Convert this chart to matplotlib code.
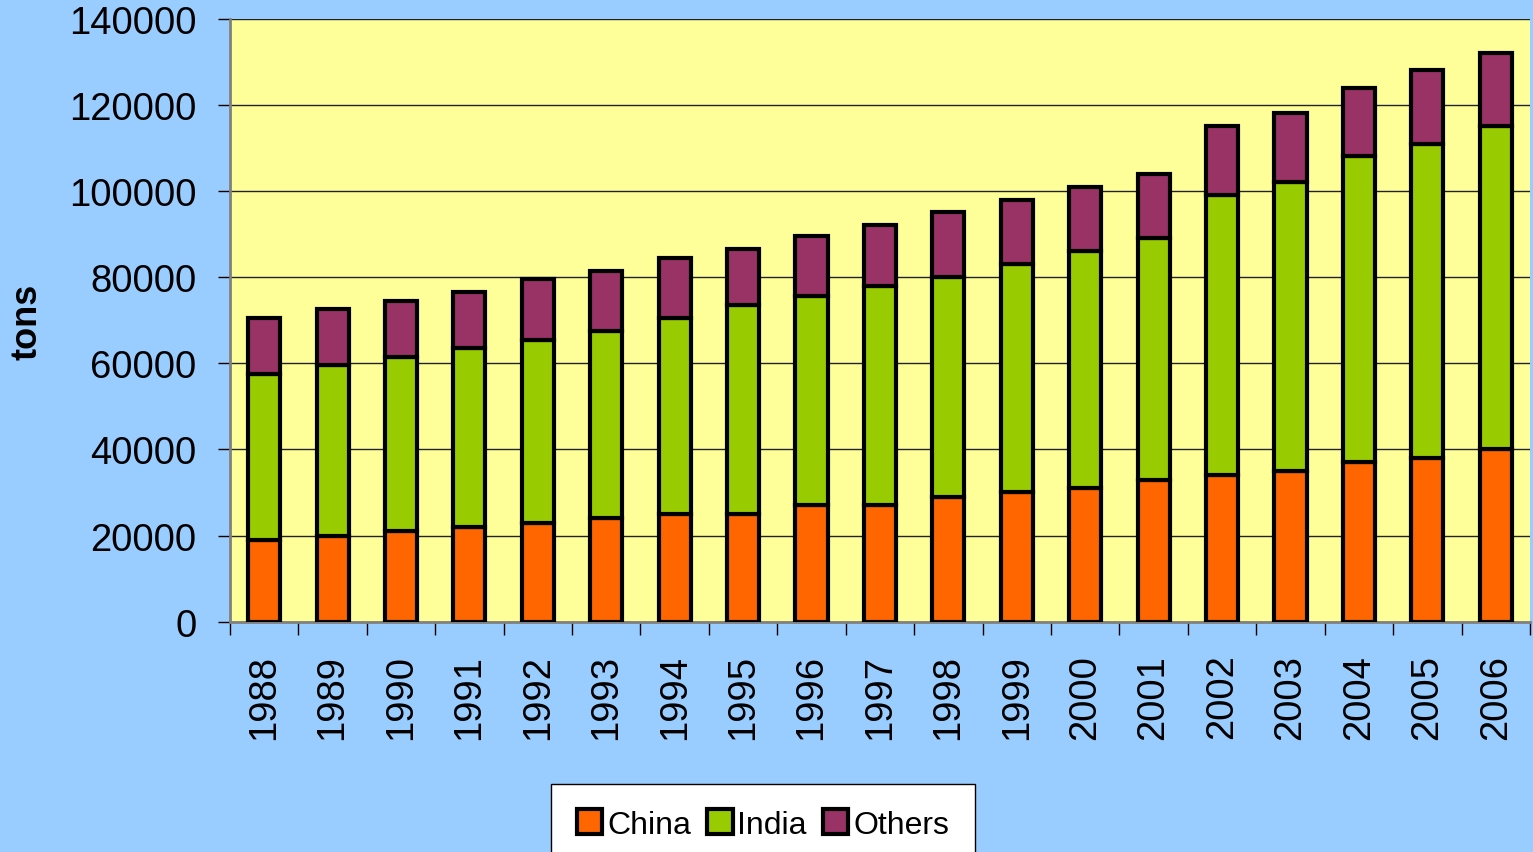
import numpy as np
import matplotlib
matplotlib.use("Agg")
import matplotlib.pyplot as plt

# dados
anos = ["1988", "1989", "1990", "1991", "1992", "1993", "1994", "1995", "1996", "1997",
        "1998", "1999", "2000", "2001", "2002", "2003", "2004", "2005", "2006"]
china = [19000, 20000, 21000, 22000, 23000, 24000, 25000, 25000, 27000, 27000,
         29000, 30000, 31000, 33000, 34000, 35000, 37000, 38000, 40000]
india = [38500, 39500, 40500, 41500, 42500, 43500, 45500, 48500, 48500, 51000,
         51000, 53000, 55000, 56000, 65000, 67000, 71000, 73000, 75000]
outros = [13000, 13000, 13000, 13000, 14000, 14000, 14000, 13000, 14000, 14000,
          15000, 15000, 15000, 15000, 16000, 16000, 16000, 17000, 17000]
series = ["China", "India", "Others"]
cores = ["#FF6600", "#99CC00", "#993366"]

plt.rcParams['font.family'] = ['Liberation Sans', 'DejaVu Sans']

fig = plt.figure(figsize=(15.33, 8.53), dpi=100)
fig.patch.set_facecolor("#99CCFF")
ax = fig.add_axes([0.150, 0.270, 0.848, 0.707])
ax.set_facecolor("#FFFF99")

x = np.arange(len(anos))
base = np.zeros(len(anos))
for nome, vals, cor in zip(series, [china, india, outros], cores):
    ax.bar(x, vals, bottom=base, width=0.47, color=cor, edgecolor="black",
           linewidth=3, label=nome, zorder=3)
    base = base + np.array(vals)

ax.set_xlim(-0.5, len(anos) - 0.5)
ax.set_ylim(0, 140000)
ax.set_yticks(range(0, 140001, 20000))
ax.yaxis.grid(True, color="#222222", linewidth=1, zorder=0)
ax.tick_params(axis="y", labelsize=27.5, length=9, width=1, pad=15, direction="out")

ax.set_xticks(x)
ax.set_xticklabels(anos, rotation=90)
ax.set_xticks(np.arange(-0.5, len(anos), 1), minor=True)
ax.tick_params(axis="x", which="major", length=0, labelsize=27.5, pad=23)
ax.tick_params(axis="x", which="minor", length=9, width=1, direction="out")

for lado in ["top", "right"]:
    ax.spines[lado].set_visible(False)
ax.spines["left"].set_color("#808080")
ax.spines["left"].set_linewidth(2)
ax.spines["bottom"].set_color("#808080")
ax.spines["bottom"].set_linewidth(2)

fig.text(27 / 1533, 1 - 322 / 853, "tons", rotation=90, fontsize=26,
         fontweight="bold", ha="center", va="center")

leg = fig.legend(loc="upper center", bbox_to_anchor=(763 / 1533, 0.080), ncol=3,
                 fontsize=23, frameon=True, fancybox=False, handlelength=0.8,
                 handleheight=0.8, handletextpad=0.15, columnspacing=0.5,
                 borderpad=0.8, borderaxespad=0, framealpha=1)
leg.get_frame().set_edgecolor("black")
leg.get_frame().set_linewidth(1)
leg.get_frame().set_facecolor("white")
for h in leg.legend_handles:
    h.set_linewidth(3)

plt.savefig("out.png", dpi=100, facecolor=fig.get_facecolor())
